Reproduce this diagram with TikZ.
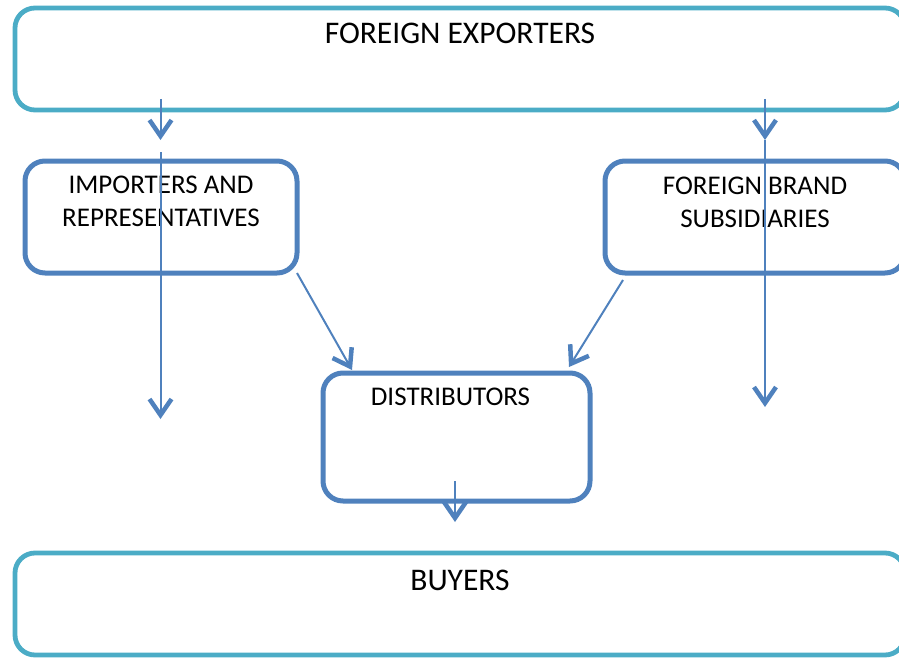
\documentclass[tikz,border=0pt]{standalone}
\usepackage{fontspec}
\setmainfont{Carlito}
\usetikzlibrary{arrows.meta,positioning}

\definecolor{expcol}{HTML}{4BACC6}
\definecolor{boxcol}{HTML}{4F81BD}

\tikzset{
    tealbox/.style={draw=expcol, line width=4.8pt, rounded corners=20pt
        , outer sep=0pt, inner sep=0pt},
    bluebox/.style={draw=boxcol, line width=5pt, rounded corners=20pt
        , outer sep=0pt, inner sep=0pt},
    biglbl/.style={inner sep=0pt, font=\fontsize{31.5}{37}\selectfont},
    lbl/.style={inner sep=0pt, align=center, font=\fontsize{27}{33}\selectfont},
    flow/.style={draw=boxcol, line width=2pt
        , -{Straight Barb[length=16pt, width=22pt, line width=4.5pt]}},
}

\begin{document}
\begin{tikzpicture}[x=1pt, y=-1pt
        , every node/.style={}
    ]

    \path[use as bounding box, clip] (0,0) rectangle (899,658);

    %% the boxes
    \node[tealbox, minimum width=890pt, minimum height=102pt] (exp) at (460,59) {};
    \node[bluebox, minimum width=272pt, minimum height=112pt] (imp) at (161,217) {};
    \node[bluebox, minimum width=300pt, minimum height=112pt] (sub) at (755,217) {};
    \node[bluebox, minimum width=267pt, minimum height=128pt] (dist) at (456.5,437) {};
    \node[tealbox, minimum width=890pt, minimum height=102pt] (buy) at (460,604) {};

    % labels sit near the top of each box
    \node[biglbl, below=15pt of exp.north] (expt) {FOREIGN EXPORTERS};
    \node[lbl, below=15pt of imp.north] (impt) {IMPORTERS AND\\REPRESENTATIVES};
    \node[lbl, below=16pt of sub.north] (subt) {FOREIGN BRAND\\SUBSIDIARIES};
    \node[lbl, below=15pt of dist.north, xshift=-6pt] (distt) {DISTRIBUTORS};
    \node[biglbl, below=17pt of buy.north] (buyt) {BUYERS};

    % ends of the connectors
    \coordinate (impA) at (160.5,99);
    \coordinate (impB) at (160.5,140);
    \coordinate (impC) at (160.5,152);
    \coordinate (impD) at (160.5,419);
    \coordinate (subA) at (765,99);
    \coordinate (subB) at (765,140);
    \coordinate (subD) at (765,407);
    \coordinate (subE) at (623,280);
    \coordinate (distA) at (352,370);
    \coordinate (distB) at (569,367);
    \coordinate (distC) at (455,481);
    \coordinate (buyA) at (455,522);

    %% the flows
    \draw[flow] (impA) -- (impB);
    \draw[flow] (impC) -- (impD);
    \draw[flow] (subA) -- (subB);
    \draw[flow] (subB) -- (subD);
    \draw[flow] (imp.south east) -- (distA);
    \draw[flow] (subE) -- (distB);
    \draw[flow] (distC) -- (buyA);
\end{tikzpicture}
\end{document}
